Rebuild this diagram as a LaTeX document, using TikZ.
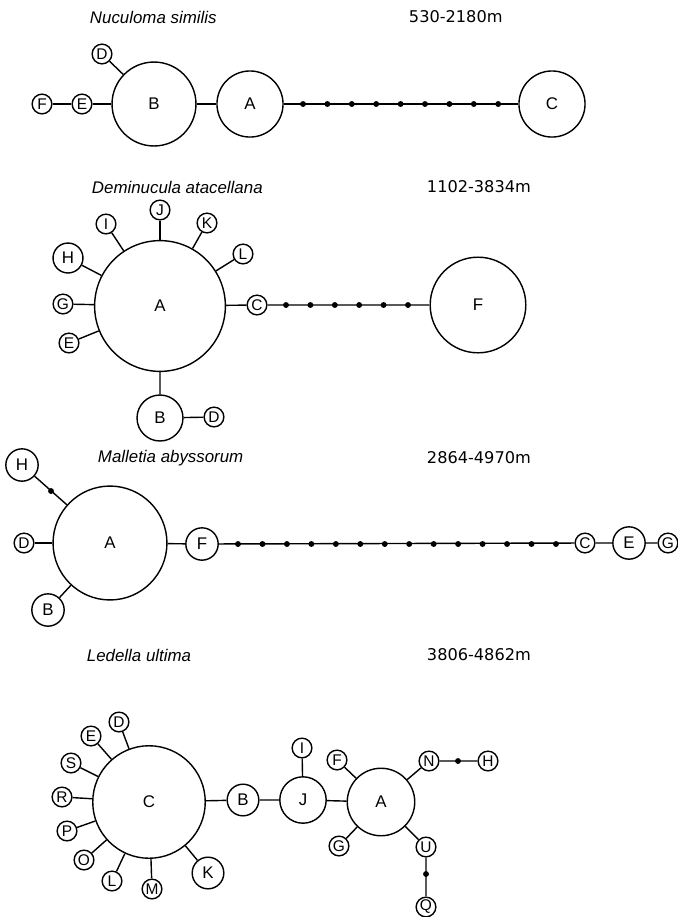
\documentclass[tikz,border=0pt]{standalone}
\usepackage{fontspec}
\setmainfont{Liberation Sans}
\newfontfamily\depthfont{DejaVu Sans}
\tikzset{
  hap/.style={circle,draw,line width=1pt,inner sep=0pt,minimum size=#1,font=\fontsize{12}{14}\selectfont},
  sat/.style={circle,draw,line width=1pt,inner sep=0pt,minimum size=14pt,font=\fontsize{11}{13}\selectfont},
  dot/.style={circle,fill,inner sep=0pt,minimum size=4.2pt},
  link/.style={line width=1pt},
  species/.style={font=\fontsize{12}{14}\selectfont\itshape,anchor=west},
  depth/.style={font=\depthfont\fontsize{11.5}{13}\selectfont,anchor=west}
}
\begin{document}
\begin{tikzpicture}[x=0.025cm,y=-0.025cm]
                \useasboundingbox (0,0) rectangle (678,917);
                % Nuculoma similis
                \node [species] (nsT) at (85,17) {Nuculoma similis};
                \node [depth] (nsDp) at (404,17) {530-2180m};
                \node [hap=59.7pt] (nsB) at (154,104) {B};
                \node [hap=47pt] (nsA) at (250,104) {A};
                \node [hap=47pt] (nsC) at (552,104) {C};
                \node [sat] (nsD) at (102,54) {D};
                \node [sat] (nsE) at (82,104) {E};
                \node [sat] (nsF) at (42,104) {F};
                \draw [link] (nsF) -- (nsE) -- (nsB) -- (nsA) -- (nsC);
                \draw [link] (nsD) -- (nsB);
                \foreach \i in {0,...,8}
                    \node [dot] (nsd\i) at ({303+24.4*\i},104) {};
                % Deminucula atacellana
                \node [species] (daT) at (87,187) {Deminucula atacellana};
                \node [depth] (daDp) at (422,187) {1102-3834m};
                \node [hap=93pt] (daA) at (160,306) {A};
                \node [hap=68pt] (daF) at (478,305) {F};
                \node [hap=32.7pt] (daB) at (160,418) {B};
                \node [hap=21.3pt] (daH) at (68,258) {H};
                \node [sat] (daC) at (257,305) {C};
                \node [sat] (daD) at (214,417) {D};
                \node [sat] (daE) at (69,343) {E};
                \node [sat] (daG) at (63,304) {G};
                \node [sat] (daI) at (106,224) {I};
                \node [sat] (daJ) at (160,210) {J};
                \node [sat] (daK) at (207,223) {K};
                \node [sat] (daL) at (243,254) {L};
                \draw [link] (daA) -- (daC) -- (daF);
                \draw [link] (daA) -- (daB) -- (daD);
                \foreach \s in {E,G,H,I,J,K,L}
                    \draw [link] (daA) -- (da\s);
                \foreach \i in {0,...,5}
                    \node [dot] (dad\i) at ({286+24.4*\i},305) {};
                % Malletia abyssorum
                \node [species] (maT) at (93,458) {Malletia abyssorum};
                \node [depth] (maDp) at (422,458) {2864-4970m};
                \node [hap=81pt] (maA) at (110,543) {A};
                \node [hap=23pt] (maH) at (22,465) {H};
                \node [sat] (maD) at (24,543) {D};
                \node [hap=23pt] (maB) at (48,610) {B};
                \node [hap=23pt] (maF) at (202,544) {F};
                \node [sat] (maC) at (585,543) {C};
                \node [hap=23pt] (maE) at (629,543) {E};
                \node [sat] (maG) at (668,543) {G};
                \draw [link] (maH) -- (maA);
                \draw [link] (maD) -- (maA);
                \draw [link] (maB) -- (maA);
                \draw [link] (maA) -- (maF) -- (maC) -- (maE) -- (maG);
                \node [dot] (mahd) at (51,491) {};
                \foreach \i in {0,...,13}
                    \node [dot] (mad\i) at ({238+24.46*\i},544) {};
                % Ledella ultima
                \node [species] (leT) at (82,655) {Ledella ultima};
                \node [depth] (leDp) at (422,655) {3806-4862m};
                \node [hap=80pt] (leC) at (149,802) {C};
                \node [hap=22.5pt] (leB) at (243,800) {B};
                \node [hap=33pt] (leJ) at (303,800) {J};
                \node [hap=48pt] (leA) at (381,802) {A};
                \node [hap=22.5pt] (leK) at (208,873) {K};
                \node [sat] (leI) at (302,748) {I};
                \node [sat] (leF) at (337,760) {F};
                \node [sat] (leG) at (339,846) {G};
                \node [sat] (leN) at (429,761) {N};
                \node [sat] (leH) at (488,761) {H};
                \node [sat] (leU) at (426,847) {U};
                \node [sat] (leQ) at (426,907) {Q};
                \node [sat] (leD) at (119,722) {D};
                \node [sat] (leE) at (91,736) {E};
                \node [sat] (leS) at (71,763) {S};
                \node [sat] (leR) at (62,797) {R};
                \node [sat] (leP) at (67,831) {P};
                \node [sat] (leO) at (84,860) {O};
                \node [sat] (leL) at (112,881) {L};
                \node [sat] (leM) at (152,889) {M};
                \draw [link] (leC) -- (leB) -- (leJ) -- (leA);
                \draw [link] (leJ) -- (leI);
                \draw [link] (leA) -- (leN) -- (leH);
                \draw [link] (leA) -- (leU) -- (leQ);
                \draw [link] (leA) -- (leF);
                \draw [link] (leA) -- (leG);
                \foreach \s in {D,E,S,R,P,O,L,M,K}
                    \draw [link] (leC) -- (le\s);
                \node [dot] (lend) at (458,761) {};
                \node [dot] (leud) at (426,874) {};
\end{tikzpicture}
\end{document}
